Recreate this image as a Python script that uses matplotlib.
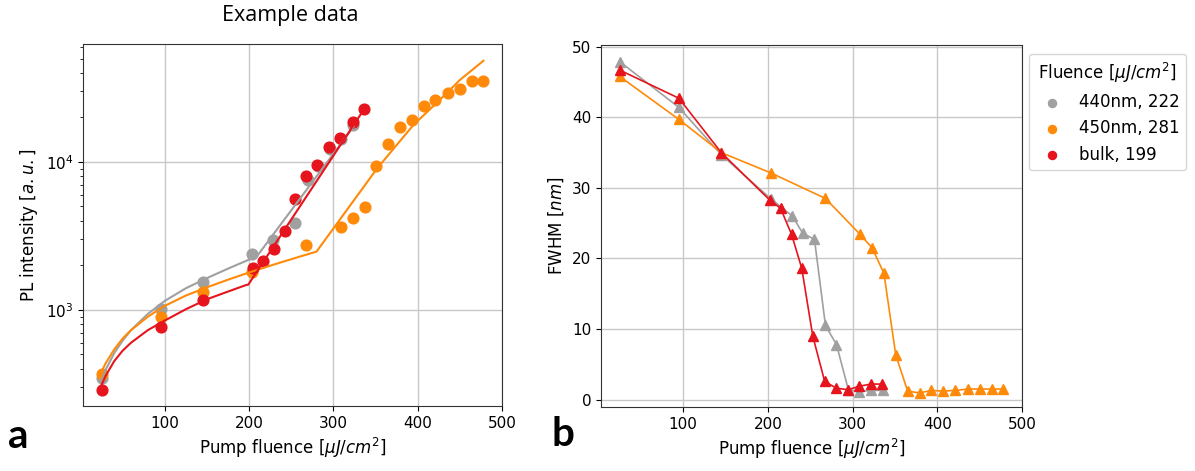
import numpy as np
import matplotlib.pyplot as plt

# pump fluence for each sample (uJ/cm^2)
x_440 = [25, 95, 145, 204, 228, 255, 270, 282, 296, 309, 323]
x_450 = [25, 95, 145, 204, 268, 309, 323, 337, 351, 365, 379, 393, 407, 421, 436, 450, 464, 478]
x_bulk = [25, 96, 145, 205, 216, 229, 243, 254, 268, 281, 295, 308, 323, 336]

# integrated PL intensity (a.u.)
pl_440 = [345, 1015, 1553, 2375, 2970, 3855, 7555, 9400, 12300, 14200, 17800]
pl_450 = [370, 893, 1330, 1815, 2750, 3620, 4170, 4990, 9450, 13250, 17330, 19200,
          23900, 26200, 29400, 30960, 35400, 35400]
pl_bulk = [288, 764, 1168, 1915, 2150, 2570, 3434, 5600, 8030, 9550, 12600, 14600,
           18700, 22750]

# fitted curves
fit_x_440 = [25, 30, 40, 50, 60, 80, 100, 125, 150, 175, 201, 208, 324]
fit_y_440 = [336, 395, 510, 620, 730, 940, 1150, 1400, 1640, 1900, 2200, 2250, 17300]
fit_x_450 = [25, 30, 40, 50, 60, 80, 100, 125, 150, 175, 200, 230, 260, 280,
             352, 395, 422, 450, 478]
fit_y_450 = [383, 437, 540, 640, 730, 900, 1064, 1250, 1420, 1600, 1790, 2030, 2290, 2477,
             9060, 17800, 24900, 35800, 48300]
fit_x_bulk = [25, 30, 40, 50, 60, 80, 100, 125, 150, 175, 197, 199, 337]
fit_y_bulk = [311, 360, 450, 530, 600, 730, 847, 1010, 1180, 1330, 1476, 1480, 23000]

# FWHM of the emission (nm)
fw_x_440 = [25, 95, 145, 204, 229, 241, 255, 268, 281, 295, 308, 322, 336]
fw_440 = [47.9, 41.4, 34.7, 28.4, 26.0, 23.6, 22.7, 10.5, 7.8, 1.4, 1.1, 1.3, 1.3]
fw_x_450 = x_450
fw_450 = [45.8, 39.7, 35.0, 32.1, 28.5, 23.4, 21.5, 17.9, 6.3, 1.2, 0.95, 1.3, 1.2,
          1.3, 1.5, 1.5, 1.5, 1.5]
fw_x_bulk = [25, 95, 145, 202, 215, 228, 240, 253, 267, 281, 295, 308, 322, 335]
fw_bulk = [46.7, 42.7, 35.0, 28.3, 27.1, 23.4, 18.6, 9.0, 2.6, 1.6, 1.4, 1.9, 2.2, 2.2]

labels = ["440nm, 222", "450nm, 281", "bulk, 199"]
colors = ["#a0a0a0", "#ff8a0a", "#e6141c"]

fig = plt.figure(figsize=(11.95, 4.71), dpi=100)
ax1 = fig.add_axes([83 / 1195, 1 - 406 / 471, 419 / 1195, 362 / 471])
ax2 = fig.add_axes([601 / 1195, 1 - 407 / 471, 421 / 1195, 362 / 471])

series = [(x_440, pl_440, fit_x_440, fit_y_440),
          (x_450, pl_450, fit_x_450, fit_y_450),
          (x_bulk, pl_bulk, fit_x_bulk, fit_y_bulk)]
for (xs, ys, fx, fy), c, lab in zip(series, colors, labels):
    ax1.scatter(xs, ys, s=60, color=c, label=lab, zorder=3)
for (xs, ys, fx, fy), c in zip(series, colors):
    ax1.plot(fx, fy, color=c, lw=1.5, zorder=4)
ax1.set_yscale("log")
ax1.set_xlim(3, 500)
ax1.set_ylim(224, 62700)
ax1.grid(True, which="major", color="#c8c8c8", lw=1)
ax1.set_axisbelow(True)
ax1.set_xlabel("Pump fluence [$\\mu J/cm^2$]", fontsize=12)
ax1.set_ylabel("PL intensity [$a.u.$]", fontsize=12)

for xs, ys, c in zip([fw_x_440, fw_x_450, fw_x_bulk], [fw_440, fw_450, fw_bulk], colors):
    ax2.plot(xs, ys, "-^", color=c, lw=1.2, ms=7)
ax2.set_xlim(3, 500)
ax2.set_ylim(-1.05, 50.25)
ax2.set_xticks([100, 200, 300, 400, 500])
ax2.set_yticks([0, 10, 20, 30, 40, 50])
ax2.grid(True, color="#c8c8c8", lw=1)
ax2.set_axisbelow(True)
ax2.set_xlabel("Pump fluence [$\\mu J/cm^2$]", fontsize=12)
ax2.set_ylabel("FWHM [$nm$]", fontsize=12)

for ax in (ax1, ax2):
    ax.tick_params(labelsize=11)
    for sp in ax.spines.values():
        sp.set_color("#333333")

h, l = ax1.get_legend_handles_labels()
fig.legend(h, l, title="Fluence [$\\mu J/cm^2$]", loc="upper left",
           bbox_to_anchor=(1029 / 1195, 1 - 54 / 471), fontsize=12,
           title_fontsize=12, markerscale=0.75, handletextpad=0.6,
           borderaxespad=0)

fig.text(290 / 1195, 1 - 15 / 471, "Example data", ha="center", va="center",
         fontsize=15.5, family="Open Sans")
fig.text(18 / 1195, 1 - 436 / 471, "a", ha="center", va="center",
         fontsize=29, fontweight="bold", family="Lato")
fig.text(563 / 1195, 1 - 435 / 471, "b", ha="center", va="center",
         fontsize=29, fontweight="bold", family="Lato")

fig.savefig("out.png", dpi=100)
